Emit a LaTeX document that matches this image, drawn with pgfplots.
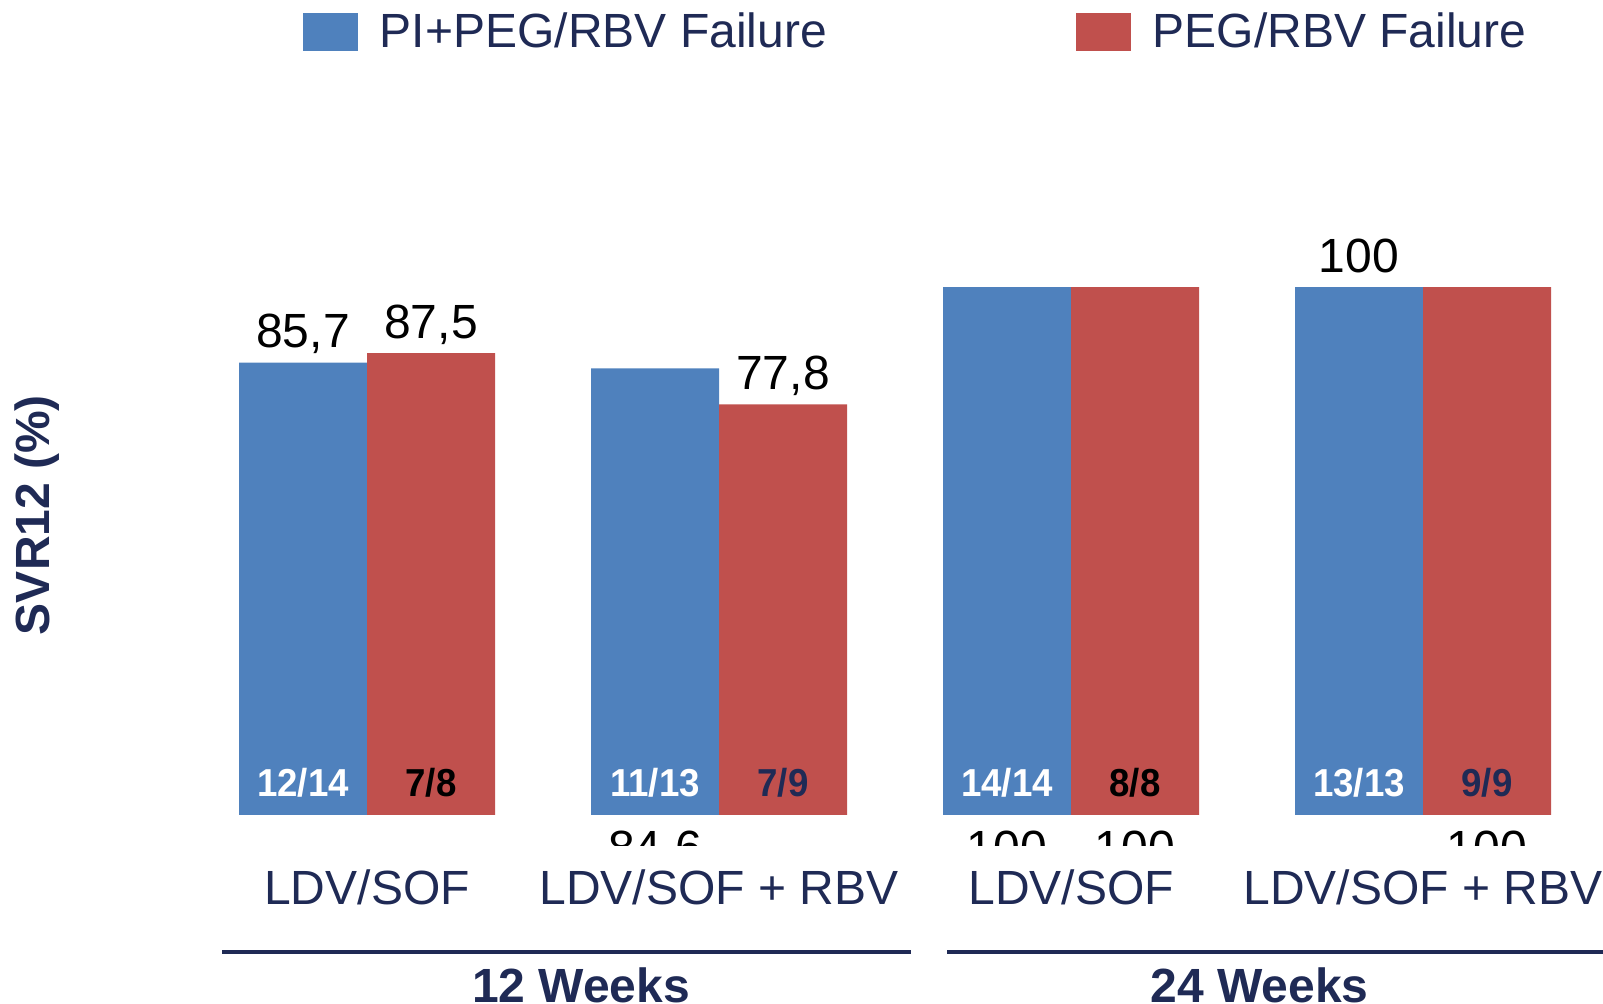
\documentclass[border=0pt]{standalone}
\usepackage{pgfplots}
\pgfplotsset{compat=1.18}
\usepackage{fontspec}
\setmainfont{Liberation Sans}
\newfontfamily\narrowf[FakeStretch=0.94]{Liberation Sans}
\definecolor{cblue}{HTML}{4F81BD}
\definecolor{cred}{HTML}{C0504D}
\definecolor{navy}{HTML}{1F2A55}
\newcommand{\bigf}{\fontsize{24}{28}\selectfont}
\newcommand{\fracf}{\narrowf\bfseries\fontsize{19.5}{23}\selectfont}
\begin{document}
\begin{tikzpicture}
\useasboundingbox (0,0) rectangle (801.5pt,502pt);
\begin{axis}[
  at={(95.5pt,79pt)}, anchor=south west,
  scale only axis, width=704pt, height=323pt,
  xmin=-0.5, xmax=3.5, ymin=-5.87, ymax=116.5,
  ybar=0pt, bar width=64pt,
  axis line style={draw=none}, tick style={draw=none}, major tick length=0pt,
  xtick={0,1,2,3},
  xticklabels={LDV/SOF, LDV/SOF + RBV, LDV/SOF, LDV/SOF + RBV},
  ytick=\empty,
  xticklabel style={anchor=base, yshift=-29.5pt, font=\bigf, text=navy},
  legend style={at={(axis description cs:0.0795,1.260)}, anchor=west,
    draw=none, fill=none, inner sep=0pt, outer sep=0pt,
    legend columns=2, font=\bigf, text=navy,
    /tikz/every odd column/.append style={column sep=11pt},
    /tikz/every even column/.append style={column sep=124.5pt},
    /tikz/column 3/.append style={column sep=9pt},
    nodes={inner sep=0pt}},
  legend cell align=left,
  legend image code/.code={\fill[#1] (0pt,-9.5pt) rectangle (27.5pt,9.5pt);},
]
\addplot[fill=cblue, draw=none] coordinates {(0,85.7) (1,84.6) (2,100) (3,100)};
\addplot[fill=cred, draw=none] coordinates {(0,87.5) (1,77.8) (2,100) (3,100)};
\legend{PI+PEG/RBV Failure, PEG/RBV Failure}
% value labels above bars
\node[anchor=base, yshift=7.5pt, font=\bigf] at (axis cs:-0.1818,85.7) {85,7};
\node[anchor=base, yshift=7.5pt, font=\bigf] at (axis cs:0.1818,87.5) {87,5};
\node[anchor=base, yshift=7.5pt, font=\bigf] at (axis cs:1.1818,77.8) {77,8};
\node[anchor=base, yshift=7.5pt, font=\bigf] at (axis cs:2.8182,100) {100};
% clipped labels below
\begin{scope}
\clip (rel axis cs:0,0) rectangle (rel axis cs:1,1);
\node[anchor=base, yshift=-24.75pt, font=\bigf] at (axis cs:0.8182,0) {84,6};
\node[anchor=base, yshift=-24.75pt, font=\bigf] at (axis cs:1.8182,0) {100};
\node[anchor=base, yshift=-24.75pt, font=\bigf] at (axis cs:2.1818,0) {100};
\node[anchor=base, yshift=-24.75pt, font=\bigf] at (axis cs:3.1818,0) {100};
\end{scope}
% fractions in bars
\node[anchor=base, yshift=9pt, font=\fracf, text=white] at (axis cs:-0.1818,0) {12/14};
\node[anchor=base, yshift=9pt, font=\fracf, text=black] at (axis cs:0.1818,0) {7/8};
\node[anchor=base, yshift=9pt, font=\fracf, text=white] at (axis cs:0.8182,0) {11/13};
\node[anchor=base, yshift=9pt, font=\fracf, text=navy] at (axis cs:1.1818,0) {7/9};
\node[anchor=base, yshift=9pt, font=\fracf, text=white] at (axis cs:1.8182,0) {14/14};
\node[anchor=base, yshift=9pt, font=\fracf, text=black] at (axis cs:2.1818,0) {8/8};
\node[anchor=base, yshift=9pt, font=\fracf, text=white] at (axis cs:2.8182,0) {13/13};
\node[anchor=base, yshift=9pt, font=\fracf, text=navy] at (axis cs:3.1818,0) {9/9};
\end{axis}
\draw[navy, line width=1.6pt] (111pt,26pt) -- (455.5pt,26pt);
\draw[navy, line width=1.6pt] (473.5pt,26pt) -- (801.5pt,26pt);
\node[anchor=base, font=\bigf\bfseries, text=navy, inner sep=0pt] at (290.5pt,0.8pt) {12 Weeks};
\node[anchor=base, font=\bigf\bfseries, text=navy, inner sep=0pt] at (629.75pt,0.8pt) {24 Weeks};
\node[anchor=base, rotate=90, font=\bigf\bfseries, text=navy, inner sep=0pt] at (24.5pt,244.5pt) {SVR12 (\%)};
\end{tikzpicture}
\end{document}
